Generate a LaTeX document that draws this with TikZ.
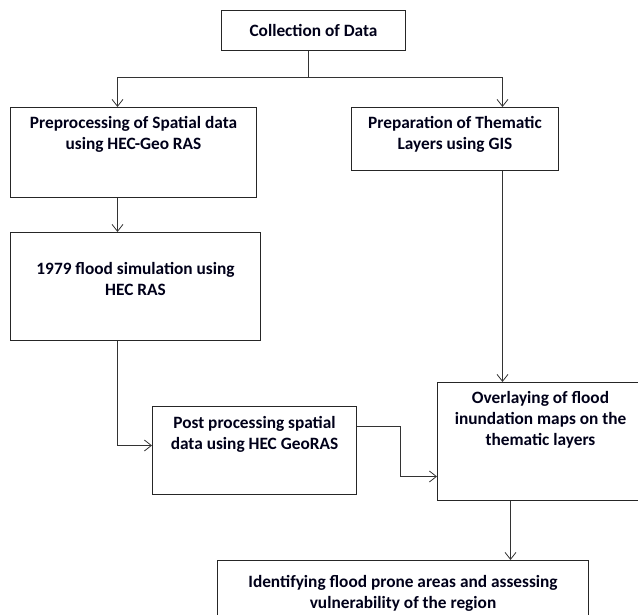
\documentclass[tikz,border=0pt]{standalone}
\usepackage{fontspec}
\setmainfont{Carlito}
\usetikzlibrary{arrows.meta}

\begin{document}
\begin{tikzpicture}  % ------ flood mapping work flow --------
      [x=1pt,y=-1pt,
       font=\bfseries\fontsize{17.3}{21}\selectfont,
       box/.style={draw=black!85, line width=1pt, anchor=north west, inner sep=0pt},
       lbl/.style={anchor=north, align=center, inner sep=0pt, text=black!90!blue},
       link/.style={draw=black!80, line width=0.8pt},
       arr/.style={link, -{Straight Barb[length=7pt,width=11pt]}}]

    \useasboundingbox (0,0) rectangle (638,615);

    \node[box, minimum width=184pt, minimum height=40pt, text=black!90!blue] (coll) at (221,10) {Collection of Data};
    \node[box, minimum width=246pt, minimum height=90pt,
          label={[lbl, yshift=-9pt]north:{Preprocessing of Spatial data\\using HEC-Geo RAS}}] (pre) at (10,107) {};
    \node[box, minimum width=207pt, minimum height=63pt,
          label={[lbl, yshift=-9pt]north:{Preparation of Thematic\\Layers using GIS}}] (prep) at (351,107) {};
    \node[box, minimum width=250pt, minimum height=108pt,
          label={[lbl, yshift=-30pt]north:{1979 flood simulation using\\HEC RAS}}] (sim) at (10,232) {};
    \node[box, minimum width=204pt, minimum height=88pt,
          label={[lbl, yshift=-10pt]north:{Post processing spatial\\data using HEC GeoRAS}}] (post) at (152,406) {};
    \node[box, minimum width=206pt, minimum height=118pt,
          label={[lbl, yshift=-9pt]north:{Overlaying of flood\\inundation maps on the\\thematic layers}}] (over) at (437,382) {};
    \node[box, minimum width=371pt, minimum height=70pt,
          label={[lbl, yshift=-15pt]north:{Identifying flood prone areas and assessing\\vulnerability of the region}}] (ident) at (217,560) {};

    \coordinate (split) at (308,77);

    \draw[link] (coll.south -| split) -- (split);
    \draw[arr] (split) -| ([xshift=-16pt]pre.north);
    \draw[arr] (split) -| ([xshift=47.5pt]prep.north);
    \draw[arr] ([xshift=-16pt]pre.south) -- ([xshift=-18pt]sim.north);
    \draw[arr] ([xshift=-18pt]sim.south) |- ([yshift=5pt]post.west);
    \draw[arr] ([yshift=24pt]post.east) -- ++(43,0) |- ([yshift=-35pt]over.west);
    \draw[arr] ([xshift=47.5pt]prep.south) -- ([xshift=47.5pt]prep.south |- over.north);
    \draw[arr] ([xshift=-30pt]over.south) -- ([xshift=-30pt]over.south |- ident.north);
\end{tikzpicture}
\end{document}
